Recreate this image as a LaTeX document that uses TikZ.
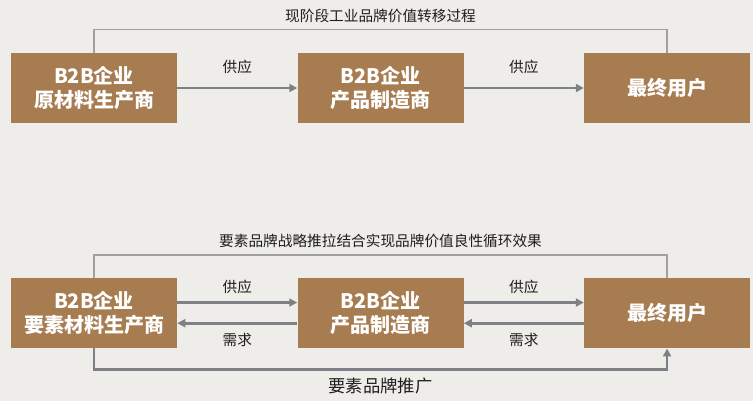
\documentclass[tikz,border=0pt]{standalone}
\usepackage{fontspec}
\setmainfont{Noto Sans CJK SC}
\usetikzlibrary{positioning,calc,arrows.meta}

\definecolor{bgcol}{RGB}{239,237,234}
\definecolor{boxbrown}{RGB}{167,124,81}
\definecolor{arrowgray}{RGB}{125,128,132}
\definecolor{linegray}{RGB}{160,160,160}
\definecolor{labelcol}{RGB}{30,30,30}

\begin{document}
\begin{tikzpicture}[x=0.75pt,y=-0.75pt,
        box/.style = {
            fill=boxbrown,
            text=white,
            align=center,
            minimum width=124.5pt,
            minimum height=52.5pt,
            inner sep=0pt,
            font=\fontsize{15}{18}\selectfont\bfseries
        },
        flow/.style = {draw=arrowgray, line width=2pt, -{Triangle[length=6pt,width=6pt]}},
        link/.style = {draw=linegray, line width=0.9pt},
        lbl/.style = {text=labelcol, font=\fontsize{11}{13}\selectfont},
        node distance=90pt]

        \fill[bgcol] (0,0) rectangle (753,401);

        % first row
        \node[box] (a) at (94,88) {B2B企业\\原材料生产商};
        \node[box, right=of a] (b) {B2B企业\\产品制造商};
        \node[box, right=of b] (c) {最终用户};

        \draw[flow] (a) -- (b) node[lbl, midway, above=6pt] (s1) {供应};
        \draw[flow] (b) -- (c) node[lbl, midway, above=6pt] (s2) {供应};
        \draw[link] (a.north) -- ++(0,-23) -| (c.north);
        \node[lbl, above=2pt] (t1) at ($(a.north)!0.5!(c.north)+(0,-23)$) {现阶段工业品牌价值转移过程};

        % second row
        \node[box, below=116pt of a] (a2) {B2B企业\\要素材料生产商};
        \node[box, right=of a2] (b2) {B2B企业\\产品制造商};
        \node[box, right=of b2] (c2) {最终用户};

        \draw[flow] ([yshift=8pt]a2.east) -- ([yshift=8pt]b2.west) node[lbl, midway, above=2pt] (s3) {供应};
        \draw[flow] ([yshift=8pt]b2.east) -- ([yshift=8pt]c2.west) node[lbl, midway, above=2pt] (s4) {供应};
        \draw[flow] ([yshift=-7.5pt]b2.west) -- ([yshift=-7.5pt]a2.east) node[lbl, midway, below=3pt] (d1) {需求};
        \draw[flow] ([yshift=-7.5pt]c2.west) -- ([yshift=-7.5pt]b2.east) node[lbl, midway, below=3pt] (d2) {需求};

        \draw[link] (a2.north) -- ++(0,-23) -| (c2.north);
        \node[lbl, above=2pt] (t2) at ($(a2.north)!0.5!(c2.north)+(0,-23)$) {要素品牌战略推拉结合实现品牌价值良性循环效果};

        \draw[flow] (a2.south) -- ++(0,21) -| (c2.south);
        \node[lbl, below=3pt, font=\fontsize{13}{15}\selectfont] (t3) at ($(a2.south)!0.5!(c2.south)+(0,21)$) {要素品牌推广};
    \end{tikzpicture}
\end{document}
